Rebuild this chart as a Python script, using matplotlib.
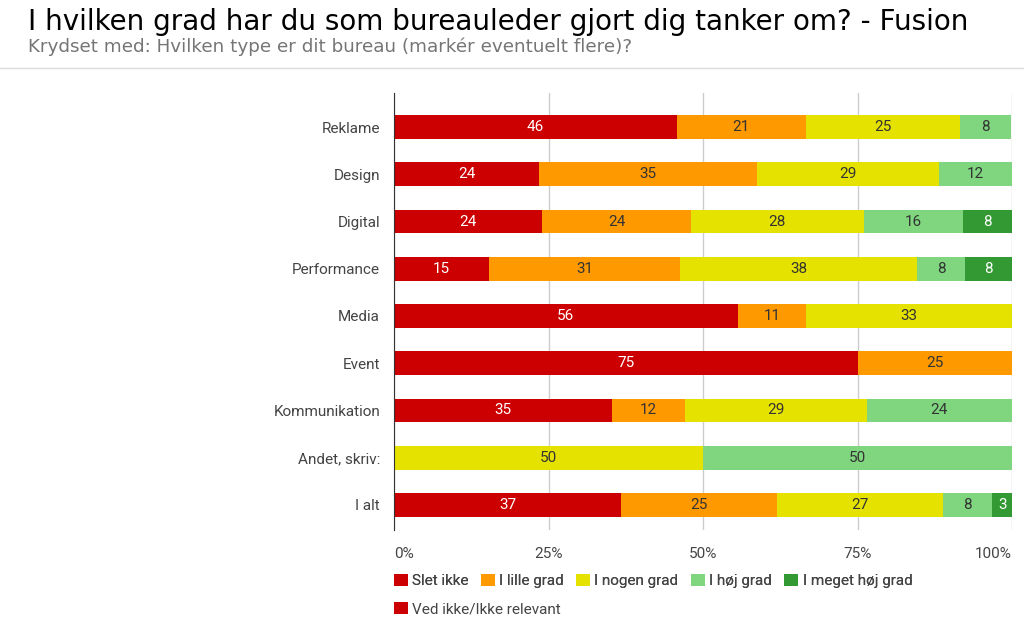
import matplotlib.pyplot as plt
from matplotlib.patches import Patch
from matplotlib.lines import Line2D

plt.rcParams['font.family'] = ['Roboto', 'DejaVu Sans']

categories = ['Reklame', 'Design', 'Digital', 'Performance', 'Media', 'Event',
              'Kommunikation', 'Andet, skriv:', 'I alt']
series = ['Slet ikke', 'I lille grad', 'I nogen grad', 'I høj grad', 'I meget høj grad',
          'Ved ikke/Ikke relevant']

slet_ikke = [45.8, 23.5, 24.0, 15.4, 55.6, 75.0, 35.3, 0.0, 36.7]
lille_grad = [20.8, 35.3, 24.0, 30.8, 11.1, 25.0, 11.8, 0.0, 25.2]
nogen_grad = [25.0, 29.4, 28.0, 38.5, 33.3, 0.0, 29.4, 50.0, 26.9]
hoej_grad = [8.3, 11.8, 16.0, 7.7, 0.0, 0.0, 23.5, 50.0, 8.0]
meget_hoej = [0.0, 0.0, 8.0, 7.7, 0.0, 0.0, 0.0, 0.0, 3.2]
ved_ikke = [0.0, 0.0, 0.0, 0.0, 0.0, 0.0, 0.0, 0.0, 0.0]

colors = ['#cc0000', '#ff9900', '#e6e200', '#7fd67f', '#339933', '#cc0000']
text_colors = ['white', '#333333', '#333333', '#333333', 'white', 'white']

fig = plt.figure(figsize=(10.24, 6.39), dpi=100)
ax = fig.add_axes([394 / 1024, 1 - 530 / 639, 618 / 1024, 437 / 639])

data = [slet_ikke, lille_grad, nogen_grad, hoej_grad, meget_hoej, ved_ikke]
y = range(len(categories))
left = [0.0] * len(categories)
for vals, col, tcol in zip(data, colors, text_colors):
    bars = ax.barh(y, vals, left=left, height=0.5, color=col, zorder=2)
    for b, v in zip(bars, vals):
        if v > 0:
            ax.text(b.get_x() + b.get_width() / 2, b.get_y() + b.get_height() / 2,
                    f'{v:.0f}', ha='center', va='center', color=tcol, fontsize=11, zorder=3)
    left = [l + v for l, v in zip(left, vals)]

ax.set_xlim(0, 100)
ax.set_ylim(8.53, -0.72)
ax.set_yticks(list(y))
ax.set_yticklabels(categories, fontsize=11, color='#444444')
ax.set_xticks([0, 25, 50, 75, 100])
xlabels = ax.set_xticklabels(['0%', '25%', '50%', '75%', '100%'], fontsize=11, color='#444444')
xlabels[0].set_ha('left')
xlabels[-1].set_ha('right')
ax.tick_params(axis='both', length=0, pad=10)
ax.tick_params(axis='x', pad=12)
ax.grid(axis='x', color='#cccccc', linewidth=1, zorder=0)
for s in ['top', 'right', 'bottom']:
    ax.spines[s].set_visible(False)
ax.spines['left'].set_color('#333333')
ax.spines['left'].set_zorder(4)

fig.text(28 / 1024, 1 - 22 / 639, 'I hvilken grad har du som bureauleder gjort dig tanker om? - Fusion',
         fontsize=20, family='DejaVu Sans', color='black', va='center')
fig.text(28 / 1024, 1 - 47 / 639, 'Krydset med: Hvilken type er dit bureau (markér eventuelt flere)?',
         fontsize=13.2, family='DejaVu Sans', color='#757575', va='center')
fig.add_artist(Line2D([0, 1], [1 - 68 / 639, 1 - 68 / 639], color='#dddddd', linewidth=1))

handles = [Patch(facecolor=c, edgecolor='none') for c in colors]
leg1 = fig.legend(handles[:5], series[:5], ncol=5, loc='center left',
                  bbox_to_anchor=(380 / 1024, 1 - 581 / 639), frameon=False, fontsize=11,
                  handlelength=0.9, handleheight=0.9, handletextpad=0.3, columnspacing=0.8)
for t in leg1.get_texts():
    t.set_color('#444444')
leg2 = fig.legend(handles[5:], series[5:], loc='center left',
                  bbox_to_anchor=(380 / 1024, 1 - 609 / 639), frameon=False, fontsize=11,
                  handlelength=0.9, handleheight=0.9, handletextpad=0.3)
for t in leg2.get_texts():
    t.set_color('#444444')
fig.add_artist(leg1)

fig.savefig('out.png', dpi=100)
